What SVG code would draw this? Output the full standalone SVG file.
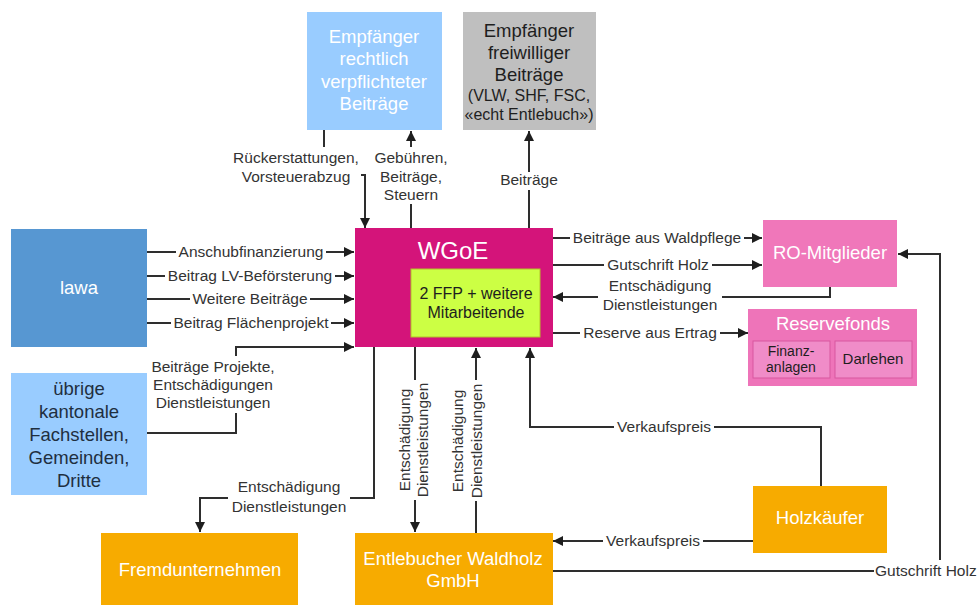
<svg xmlns="http://www.w3.org/2000/svg" width="978" height="605" viewBox="0 0 978 605">
<style>
text{font-family:"Liberation Sans",Arial,sans-serif;}
.node{font-size:18.5px;text-anchor:middle;}
.w{fill:#ffffff;}
.d{fill:#1e1e1e;}
.lbl{font-size:15.5px;fill:#333333;text-anchor:middle;}
.c{fill:none;stroke:#2e2e2e;stroke-width:2;}
.a{marker-end:url(#arr);}
.bg{fill:#ffffff;}
</style>
<defs>
<marker id="arr" markerUnits="userSpaceOnUse" markerWidth="10" markerHeight="10" viewBox="0 0 10 10" refX="10" refY="5" orient="auto">
<path d="M0,0 L10,5 L0,10 z" fill="#1e1e1e"/>
</marker>
</defs>
<rect width="978" height="605" fill="#ffffff"/>

<g id="connectors">
<path class="c a" d="M324,130 V175 H365 V228"/>
<path class="c a" d="M411,228 V131"/>
<path class="c a" d="M529,228 V131"/>
<path class="c a" d="M147,252 H354"/>
<path class="c a" d="M147,276 H354"/>
<path class="c a" d="M147,299 H354"/>
<path class="c a" d="M147,323 H354"/>
<path class="c a" d="M147,433 H236 V347 H354"/>
<path class="c a" d="M374,347 V498 H200 V532"/>
<path class="c a" d="M415,347 V532"/>
<path class="c a" d="M476,533 V348"/>
<path class="c a" d="M553,238 H762"/>
<path class="c a" d="M553,265 H762"/>
<path class="c a" d="M830,287 V297 H553"/>
<path class="c a" d="M553,333 H748"/>
<path class="c a" d="M821,486 V427 H530 V348"/>
<path class="c a" d="M753,541 H553"/>
<path class="c a" d="M553,571 H940 V254 H898"/>

<rect class="bg" x="228" y="147" width="133" height="40"/>
<text class="lbl" x="296" y="163">Rückerstattungen,</text>
<text class="lbl" x="296" y="182">Vorsteuerabzug</text>

<rect class="bg" x="369" y="147" width="84" height="57"/>
<text class="lbl" x="411" y="163">Gebühren,</text>
<text class="lbl" x="411" y="182">Beiträge,</text>
<text class="lbl" x="411" y="200">Steuern</text>

<rect class="bg" x="496" y="172" width="66" height="18"/>
<text class="lbl" x="529" y="185">Beiträge</text>

<rect class="bg" x="176" y="244" width="150" height="17"/>
<text class="lbl" x="251" y="257">Anschubfinanzierung</text>
<rect class="bg" x="165" y="268" width="170" height="17"/>
<text class="lbl" x="250" y="281">Beitrag LV-Beförsterung</text>
<rect class="bg" x="190" y="291" width="120" height="17"/>
<text class="lbl" x="250" y="304">Weitere Beiträge</text>
<rect class="bg" x="171" y="315" width="160" height="17"/>
<text class="lbl" x="251" y="328">Beitrag Flächenprojekt</text>

<rect class="bg" x="146" y="356" width="134" height="57"/>
<text class="lbl" x="213" y="372">Beiträge Projekte,</text>
<text class="lbl" x="213" y="390">Entschädigungen</text>
<text class="lbl" x="213" y="408">Dienstleistungen</text>

<rect class="bg" x="228" y="476" width="122" height="40"/>
<text class="lbl" x="289" y="492">Entschädigung</text>
<text class="lbl" x="289" y="512">Dienstleistungen</text>

<rect class="bg" x="396" y="380" width="36" height="120"/>
<text class="lbl" transform="translate(405,440) rotate(-90)" y="5">Entschädigung</text>
<text class="lbl" transform="translate(423,440) rotate(-90)" y="5">Dienstleistungen</text>

<rect class="bg" x="448" y="380" width="38" height="121"/>
<text class="lbl" transform="translate(458,441) rotate(-90)" y="5">Entschädigung</text>
<text class="lbl" transform="translate(477,441) rotate(-90)" y="5">Dienstleistungen</text>

<rect class="bg" x="570" y="230" width="174" height="17"/>
<text class="lbl" x="657" y="243">Beiträge aus Waldpflege</text>
<rect class="bg" x="604" y="257" width="108" height="17"/>
<text class="lbl" x="658" y="270">Gutschrift Holz</text>

<rect class="bg" x="598" y="276" width="124" height="38"/>
<text class="lbl" x="660" y="291">Entschädigung</text>
<text class="lbl" x="660" y="310">Dienstleistungen</text>

<rect class="bg" x="580" y="325" width="140" height="17"/>
<text class="lbl" x="650" y="338">Reserve aus Ertrag</text>
<rect class="bg" x="614" y="419" width="100" height="17"/>
<text class="lbl" x="664" y="432">Verkaufspreis</text>
<rect class="bg" x="603" y="533" width="100" height="17"/>
<text class="lbl" x="653" y="546">Verkaufspreis</text>
<rect class="bg" x="874" y="560" width="104" height="22"/>
<text class="lbl" x="875" y="576" style="text-anchor:start">Gutschrift Holz</text>
</g>

<g id="empf-rechtlich">
<rect x="307" y="12" width="135" height="118" fill="#99CCFF"/>
<text class="node w" x="374" y="43">Empfänger</text>
<text class="node w" x="374" y="65">rechtlich</text>
<text class="node w" x="374" y="88">verpflichteter</text>
<text class="node w" x="374" y="110">Beiträge</text>
</g>

<g id="empf-freiwillig">
<rect x="463" y="12" width="133" height="118" fill="#BFBFBF"/>
<text class="node d" x="529" y="37">Empfänger</text>
<text class="node d" x="529" y="59">freiwilliger</text>
<text class="node d" x="529" y="81">Beiträge</text>
<text class="d" x="529" y="101" font-size="16" text-anchor="middle">(VLW, SHF, FSC,</text>
<text class="d" x="529" y="120" font-size="16" text-anchor="middle">«echt Entlebuch»)</text>
</g>

<g id="lawa">
<rect x="11" y="229" width="136" height="118" fill="#5797D2"/>
<text class="node w" x="79" y="294">lawa</text>
</g>

<g id="uebrige">
<rect x="11" y="373" width="136" height="122" fill="#99CCFF"/>
<text class="node" fill="#1f2f3f" x="79" y="395">übrige</text>
<text class="node" fill="#1f2f3f" x="79" y="418">kantonale</text>
<text class="node" fill="#1f2f3f" x="79" y="441">Fachstellen,</text>
<text class="node" fill="#1f2f3f" x="79" y="464">Gemeinden,</text>
<text class="node" fill="#1f2f3f" x="79" y="487">Dritte</text>
</g>

<g id="wgoe">
<rect x="355" y="228" width="198" height="119" fill="#D4147A"/>
<text class="w" x="453" y="259" font-size="24" text-anchor="middle">WGoE</text>
<rect x="411" y="269" width="129" height="68" fill="#CCFF44" stroke="#B3C02A" stroke-width="1"/>
<text class="d" x="476" y="299" font-size="16" text-anchor="middle">2 FFP + weitere</text>
<text class="d" x="476" y="318" font-size="16" text-anchor="middle">Mitarbeitende</text>
</g>

<g id="ro-mitglieder">
<rect x="763" y="220" width="134" height="67" fill="#F077BA"/>
<text class="node w" x="830" y="259">RO-Mitglieder</text>
</g>

<g id="reservefonds">
<rect x="748" y="309" width="169" height="77" fill="#EE74B9"/>
<text class="node w" x="833" y="330">Reservefonds</text>
<rect x="753" y="341" width="77" height="37" fill="#F08CC8" stroke="#D8579F" stroke-width="1"/>
<text class="d" x="791" y="356" font-size="14" text-anchor="middle">Finanz-</text>
<text class="d" x="791" y="372" font-size="14" text-anchor="middle">anlagen</text>
<rect x="835" y="341" width="77" height="37" fill="#F08CC8" stroke="#D8579F" stroke-width="1"/>
<text class="d" x="873" y="364" font-size="15" text-anchor="middle">Darlehen</text>
</g>

<g id="holzkaeufer">
<rect x="753" y="486" width="134" height="67" fill="#F7AB00"/>
<text class="node w" x="820" y="524">Holzkäufer</text>
</g>

<g id="fremdunternehmen">
<rect x="101" y="533" width="197" height="72" fill="#F7AB00"/>
<text class="node w" x="200" y="576">Fremdunternehmen</text>
</g>

<g id="entlebucher">
<rect x="355" y="533" width="198" height="72" fill="#F7AB00"/>
<text class="node w" x="453" y="565">Entlebucher Waldholz</text>
<text class="node w" x="453" y="587">GmbH</text>
</g>
</svg>
